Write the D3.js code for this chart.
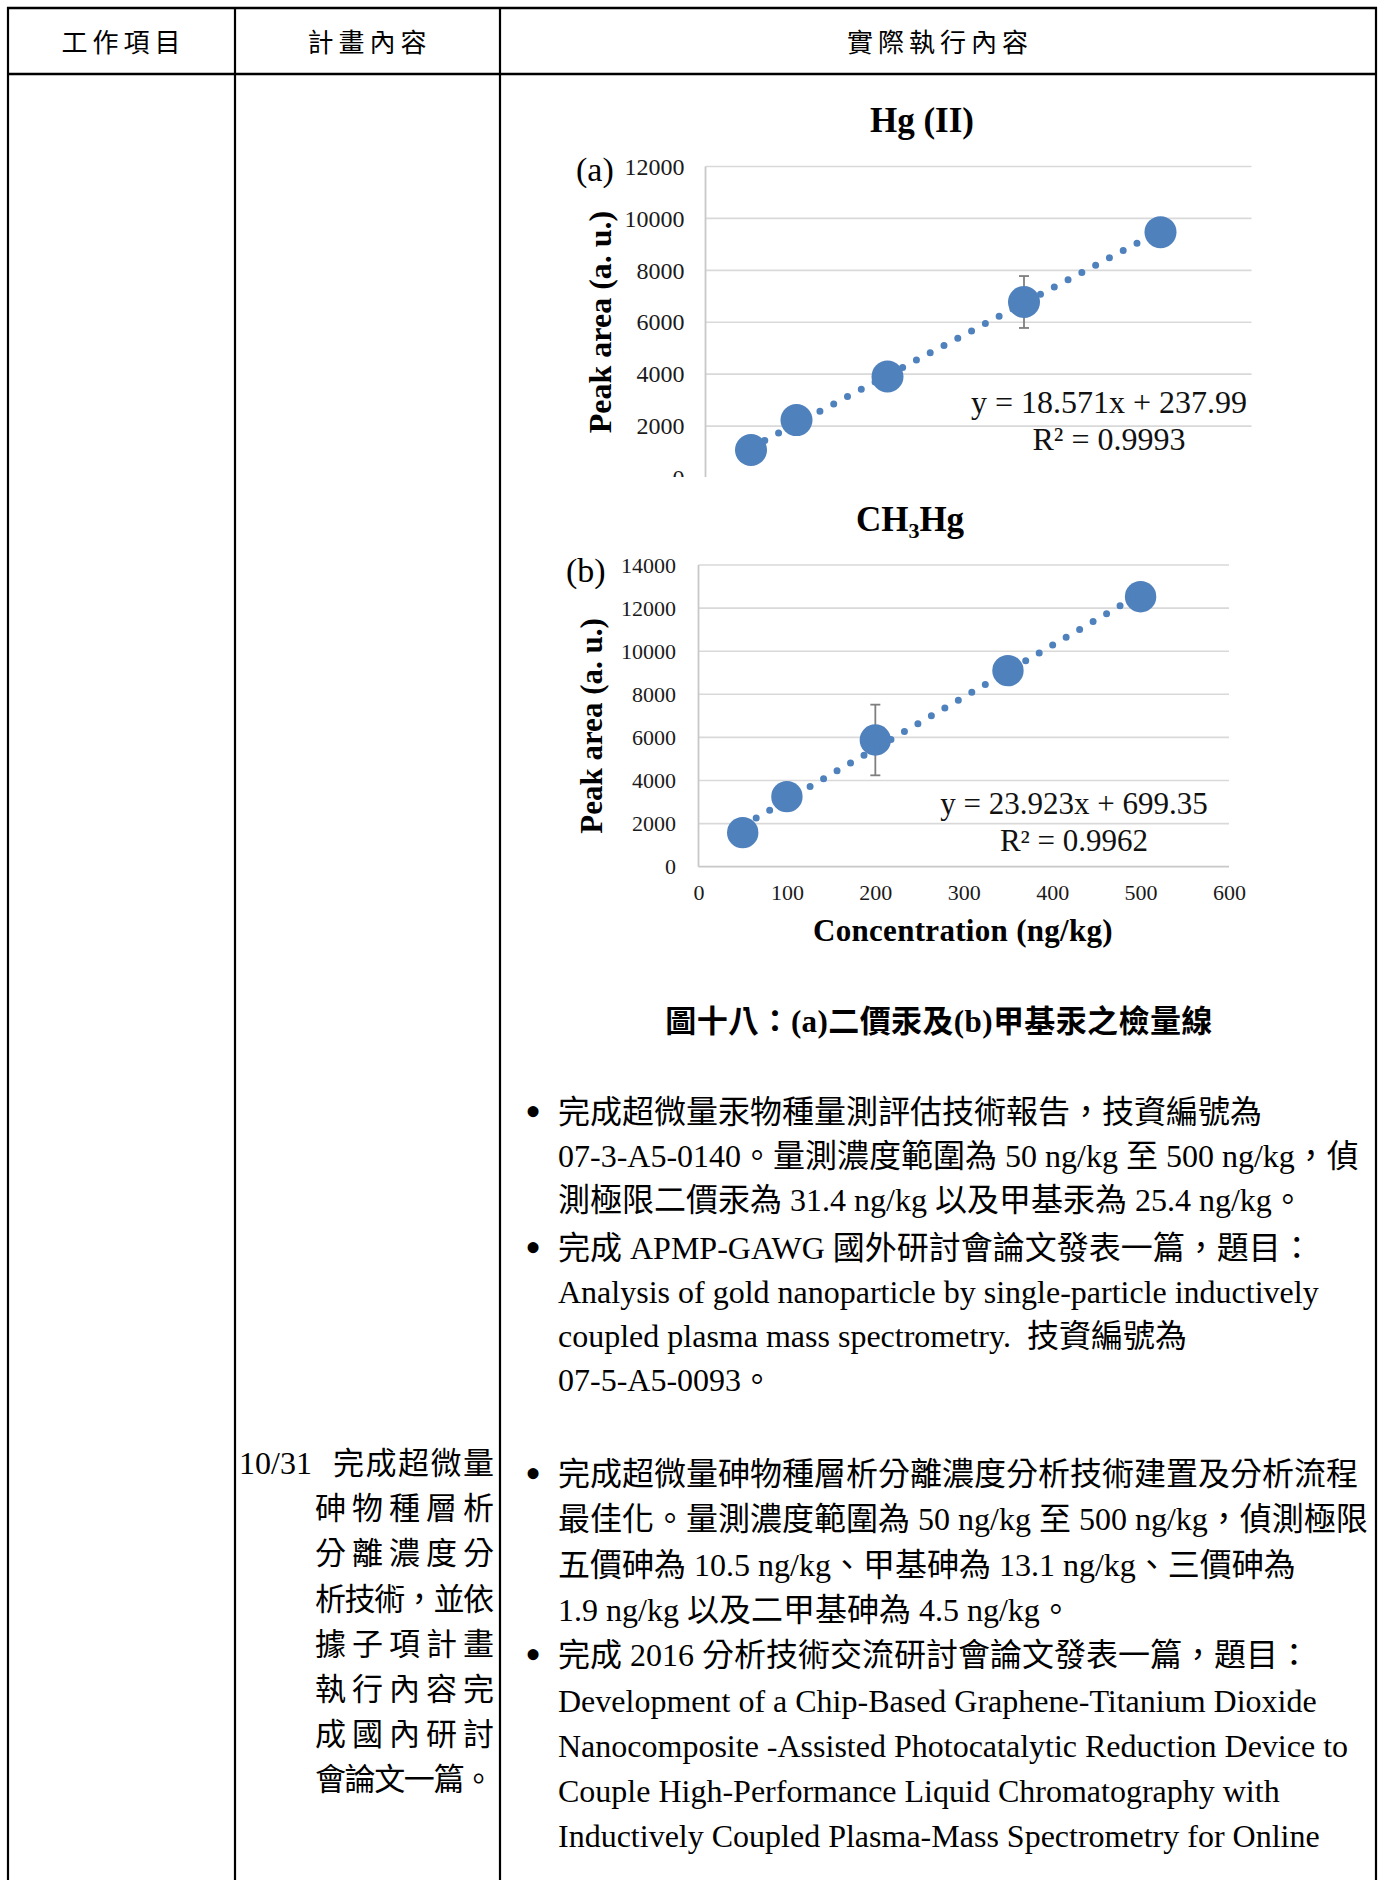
<!DOCTYPE html>
<html><head><meta charset="utf-8">
<script src="https://cdn.jsdelivr.net/npm/d3@7/dist/d3.min.js"></script>
<style>
body{margin:0;background:#fff}
svg text{white-space:pre}
</style></head><body>
<svg id="c" width="1386" height="1880"></svg>
<script>
// ---------- data ----------
const concentrations = [50, 100, 200, 350, 500];
const hgArea   = [1080, 2230, 3910, 6780, 9470];
const hgErr    = [0, 0, 0, 1000, 0];
const meHgArea = [1580, 3250, 5880, 9100, 12530];
const meHgErr  = [0, 0, 1640, 0, 0];
const fitSlope = [18.571, 23.923];
const fitIntercept = [237.99, 699.35];
const fitR2 = ["0.9993", "0.9962"];
const xTicks = [0, 100, 200, 300, 400, 500, 600];
const hgYTicks = [0, 2000, 4000, 6000, 8000, 10000, 12000];
const meHgYTicks = [0, 2000, 4000, 6000, 8000, 10000, 12000, 14000];
const headerLabels = ["工作項目", "計畫內容", "實際執行內容"];
const captionText = "圖十八：(a)二價汞及(b)甲基汞之檢量線";
const section1 = [
  {b:true,  t:"完成超微量汞物種量測評估技術報告，技資編號為"},
  {b:false, t:"07-3-A5-0140。量測濃度範圍為 50 ng/kg 至 500 ng/kg，偵"},
  {b:false, t:"測極限二價汞為 31.4 ng/kg 以及甲基汞為 25.4 ng/kg。"},
  {b:true,  t:"完成 APMP-GAWG 國外研討會論文發表一篇，題目："},
  {b:false, t:"Analysis of gold nanoparticle by single-particle inductively"},
  {b:false, t:"coupled plasma mass spectrometry.  技資編號為"},
  {b:false, t:"07-5-A5-0093。"}
];
const section2 = [
  {b:true,  t:"完成超微量砷物種層析分離濃度分析技術建置及分析流程"},
  {b:false, t:"最佳化。量測濃度範圍為 50 ng/kg 至 500 ng/kg，偵測極限"},
  {b:false, t:"五價砷為 10.5 ng/kg、甲基砷為 13.1 ng/kg、三價砷為"},
  {b:false, t:"1.9 ng/kg 以及二甲基砷為 4.5 ng/kg。"},
  {b:true,  t:"完成 2016 分析技術交流研討會論文發表一篇，題目："},
  {b:false, t:"Development of a Chip-Based Graphene-Titanium Dioxide"},
  {b:false, t:"Nanocomposite -Assisted Photocatalytic Reduction Device to"},
  {b:false, t:"Couple High-Performance Liquid Chromatography with"},
  {b:false, t:"Inductively Coupled Plasma-Mass Spectrometry for Online"}
];
const planDate = "10/31";
const planLines = ["完成超微量","砷物種層析","分離濃度分","析技術，並依","據子項計畫","執行內容完","成國內研討","會論文一篇。"];

// ---------- setup ----------
const SERIF = '"Liberation Serif","Times New Roman",serif';
const MIX = '"Liberation Serif","Noto Sans CJK TC",serif';
const CJK = '"Noto Sans CJK TC",sans-serif';
const BLUE = "#4f81bd";
const svg = d3.select("#c");
svg.append("rect").attr("width",1386).attr("height",1880).attr("fill","#fff");

// ---------- table ----------
const tbl = svg.append("g");
const colX = [8, 235, 500, 1376];
tbl.selectAll("line.v").data(colX).join("line")
  .attr("x1",d=>d).attr("x2",d=>d).attr("y1",7).attr("y2",1880)
  .attr("stroke","#000").attr("stroke-width",2.2);
[8, 74].forEach(y=>tbl.append("line").attr("x1",7).attr("x2",1377).attr("y1",y).attr("y2",y)
  .attr("stroke","#000").attr("stroke-width",2.6));
tbl.selectAll("text.h").data(headerLabels).join("text")
  .attr("x",(d,i)=>(colX[i]+colX[i+1])/2+2).attr("y",52)
  .attr("text-anchor","middle").attr("font-family",CJK).attr("font-size",26)
  .attr("letter-spacing",5).text(d=>d);

// ---------- chart helper ----------
function chart(cfg){
  const g = svg.append("g");
  if(cfg.clip){
    svg.append("clipPath").attr("id",cfg.id+"clip").append("rect")
      .attr("x",cfg.clip[0]).attr("y",cfg.clip[1]).attr("width",cfg.clip[2]).attr("height",cfg.clip[3]);
    g.attr("clip-path",`url(#${cfg.id}clip)`);
  }
  const x = d3.scaleLinear().domain([0,600]).range([cfg.left, cfg.right]);
  const y = d3.scaleLinear().domain([0, cfg.yTicks[cfg.yTicks.length-1]]).range([cfg.bottom, cfg.top]);
  // grid
  g.selectAll("line.grid").data(cfg.yTicks.filter(v=>v>0)).join("line")
    .attr("x1",cfg.left).attr("x2",cfg.right).attr("y1",d=>y(d)).attr("y2",d=>y(d))
    .attr("stroke","#d9d9d9").attr("stroke-width",1.6);
  // axis lines
  g.append("line").attr("x1",cfg.left).attr("x2",cfg.right).attr("y1",y(0)).attr("y2",y(0))
    .attr("stroke","#c8c8c8").attr("stroke-width",1.8);
  g.append("line").attr("x1",cfg.left).attr("x2",cfg.left).attr("y1",y(0)).attr("y2",cfg.top)
    .attr("stroke","#c8c8c8").attr("stroke-width",1.8);
  // y axis labels
  const ya = g.append("g").attr("transform",`translate(${cfg.left},0)`)
    .call(d3.axisLeft(y).tickValues(cfg.yTicks).tickFormat(d3.format("d")).tickSize(0).tickPadding(cfg.ypad));
  ya.select(".domain").remove();
  ya.selectAll("text").attr("font-family",SERIF).attr("font-size",cfg.tickFs).attr("fill","#1a1a1a");
  if(cfg.showX){
    const xa = g.append("g").attr("transform",`translate(0,${cfg.bottom})`)
      .call(d3.axisBottom(x).tickValues(xTicks).tickFormat(d3.format("d")).tickSize(0).tickPadding(18));
    xa.select(".domain").remove();
    xa.selectAll("text").attr("font-family",SERIF).attr("font-size",cfg.tickFs).attr("fill","#1a1a1a");
  }
  // error bars
  const pts = concentrations.map((c,i)=>({c, v:cfg.values[i], e:cfg.errs[i]}));
  const eb = g.append("g").attr("stroke","#7f7f7f").attr("stroke-width",1.8);
  pts.filter(p=>p.e>0).forEach(p=>{
    eb.append("line").attr("x1",x(p.c)).attr("x2",x(p.c)).attr("y1",y(p.v-p.e)).attr("y2",y(p.v+p.e));
    [p.v-p.e, p.v+p.e].forEach(v=>eb.append("line").attr("x1",x(p.c)-5).attr("x2",x(p.c)+5).attr("y1",y(v)).attr("y2",y(v)));
  });
  // markers
  g.selectAll("circle.pt").data(pts).join("circle")
    .attr("cx",d=>x(d.c)).attr("cy",d=>y(d.v)).attr("r",cfg.r).attr("fill",BLUE);
  // trendline
  const x0 = concentrations[0], x1 = concentrations[concentrations.length-1];
  const f = c => cfg.slope*c + cfg.intercept;
  g.append("line").attr("x1",x(x0)).attr("y1",y(f(x0))).attr("x2",x(x1)).attr("y2",y(f(x1)))
    .attr("stroke",BLUE).attr("stroke-width",7).attr("stroke-linecap","round")
    .attr("stroke-dasharray","0 15.6");
  // equation
  const eq = g.append("text").attr("font-family",SERIF).attr("font-size",cfg.eqFs).attr("text-anchor","middle").attr("fill","#111");
  eq.append("tspan").attr("x",cfg.eqX).attr("y",cfg.eqY)
    .text(`y = ${cfg.slope}x + ${cfg.intercept}`);
  eq.append("tspan").attr("x",cfg.eqX).attr("y",cfg.eqY+37).text(`R² = ${cfg.r2}`);
  // y title
  svg.append("text").attr("transform",`translate(${cfg.ytX},${cfg.ytY}) rotate(-90)`)
    .attr("text-anchor","middle").attr("font-family",SERIF).attr("font-weight","bold")
    .attr("font-size",cfg.ytFs).text("Peak area (a. u.)");
  return {x,y,g};
}

// ---------- chart (a) ----------
svg.append("text").attr("x",922).attr("y",132).attr("text-anchor","middle")
  .attr("font-family",SERIF).attr("font-weight","bold").attr("font-size",35).text("Hg (II)");
svg.append("text").attr("x",576).attr("y",181).attr("font-family",SERIF).attr("font-size",34).text("(a)");
chart({id:"a", clip:[500,80,876,397], left:705.5, right:1251.5, top:166.5, bottom:478,
  yTicks:hgYTicks, values:hgArea, errs:hgErr, slope:fitSlope[0], intercept:fitIntercept[0], r2:fitR2[0],
  ypad:21, tickFs:24, r:16, eqX:1109, eqY:413, eqFs:32, ytX:611, ytY:322, ytFs:32, showX:false});

// ---------- chart (b) ----------
const tb = svg.append("text").attr("x",910).attr("y",531).attr("text-anchor","middle")
  .attr("font-family",SERIF).attr("font-weight","bold").attr("font-size",35);
tb.append("tspan").text("CH");
tb.append("tspan").attr("font-size",22).attr("dy",7).text("3");
tb.append("tspan").attr("dy",-7).text("Hg");
svg.append("text").attr("x",566).attr("y",582).attr("font-family",SERIF).attr("font-size",34).text("(b)");
chart({id:"b", left:698.5, right:1229, top:565, bottom:866.7,
  yTicks:meHgYTicks, values:meHgArea, errs:meHgErr, slope:fitSlope[1], intercept:fitIntercept[1], r2:fitR2[1],
  ypad:22.5, tickFs:22, r:15.7, eqX:1074, eqY:814, eqFs:31, ytX:602, ytY:726, ytFs:31, showX:true});
svg.append("text").attr("x",963).attr("y",941).attr("text-anchor","middle")
  .attr("font-family",SERIF).attr("font-weight","bold").attr("font-size",31)
  .attr("letter-spacing",0.3).text("Concentration (ng/kg)");

// ---------- caption ----------
svg.append("text").attr("x",939).attr("y",1032).attr("text-anchor","middle")
  .attr("font-family",MIX).attr("font-weight","bold").attr("font-size",31)
  .attr("letter-spacing",0.4).text(captionText);

// ---------- bullet text ----------
function block(lines, y0, step, gapAt){
  let y = y0;
  lines.forEach((l,i)=>{
    if(i>0){ y += step; if(l.b) y += gapAt; }
    if(l.b) svg.append("text").attr("x",533).attr("y",y+4).attr("text-anchor","middle")
      .attr("font-family",SERIF).attr("font-size",46).text("•");
    svg.append("text").attr("x",558).attr("y",y).attr("font-family",MIX).attr("font-size",32).text(l.t);
  });
}
block(section1, 1123, 44.2, 3);
block(section2, 1485, 45.3, 0);

// ---------- plan column ----------
svg.append("text").attr("x",239).attr("y",1474).attr("font-family",SERIF).attr("font-size",32).text(planDate);
planLines.forEach((t,i)=>{
  const el = svg.append("text").attr("y",1474+i*45.2).attr("font-family",MIX).attr("font-size",31);
  if(i===0){ el.attr("x",333).attr("textLength",161).attr("lengthAdjust","spacing"); }
  else { el.attr("x",315).attr("textLength",179).attr("lengthAdjust","spacing"); }
  el.text(t);
});
</script></body></html>
